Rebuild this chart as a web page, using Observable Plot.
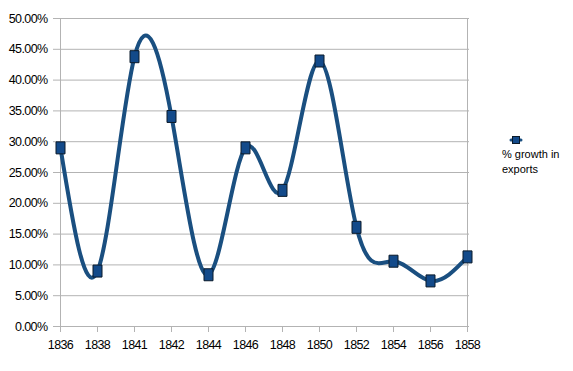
<!DOCTYPE html>
<html>
<head>
<meta charset="utf-8">
<script src="https://cdn.jsdelivr.net/npm/d3@7"></script>
<script src="https://cdn.jsdelivr.net/npm/@observablehq/plot@0.6"></script>
<style>
  html, body { margin: 0; padding: 0; background: #fff; }
  #wrap { position: relative; width: 573px; height: 371px; }
  #legend { position: absolute; left: 502px; top: 135px; font: 11px "Liberation Sans", Arial, sans-serif; color: #000; line-height: 15px; }
  #legend svg { display: block; margin-left: 6px; margin-bottom: 2px; }
  #chart svg text { letter-spacing: -0.6px; }
</style>
</head>
<body>
<div id="wrap"><div id="chart"></div>
<div id="legend"><svg width="16" height="10"><line x1="3" x2="13" y1="5" y2="5" stroke="#1a4f80" stroke-width="3" stroke-linecap="round"/><rect x="4.5" y="1.5" width="7" height="7" fill="#134a8a" stroke="#0a1a2a" stroke-width="1"/></svg>% growth in<br>exports</div>
</div>
<script>
const years = ["1836","1838","1841","1842","1844","1846","1848","1850","1852","1854","1856","1858"];
const growth = [0.290, 0.090, 0.438, 0.341, 0.084, 0.290, 0.221, 0.431, 0.161, 0.106, 0.074, 0.113];
const yTicks = [0, 0.05, 0.10, 0.15, 0.20, 0.25, 0.30, 0.35, 0.40, 0.45, 0.50];

const data = years.map((y, i) => ({year: y, value: growth[i]}));
const grid = "#b3b3b3";
const rectSymbol = { draw(ctx) { ctx.rect(-4.5, -6, 9, 12); } };

const chart = Plot.plot({
  width: 573,
  height: 371,
  marginLeft: 58,
  marginRight: 104,
  marginTop: 18,
  marginBottom: 45,
  style: { fontFamily: '"Liberation Sans", Arial, sans-serif', fontSize: "12.5px", color: "#000", background: "#fff" },
  x: { type: "point", domain: years, padding: 0, label: null },
  y: { domain: [0, 0.5], label: null },
  marks: [
    Plot.ruleY(yTicks, { stroke: grid, strokeWidth: 1 }),
    Plot.ruleX([years[0], years[years.length - 1]], { stroke: grid, strokeWidth: 1 }),
    Plot.axisY(yTicks, { tickFormat: d3.format(".2%"), tickSize: 5, tickPadding: 6, stroke: grid, fill: "#000" }),
    Plot.axisX({ tickSize: 6, tickPadding: 8, stroke: grid, fill: "#000" }),
    Plot.line(data, { x: "year", y: "value", curve: "natural", stroke: "#1a4f80", strokeWidth: 4, strokeLinejoin: "round", strokeLinecap: "round" }),
    Plot.dot(data, { x: "year", y: "value", symbol: rectSymbol, fill: "#134a8a", stroke: "#0a1a2a", strokeWidth: 1 })
  ]
});
document.getElementById("chart").appendChild(chart);
</script>
</body>
</html>
